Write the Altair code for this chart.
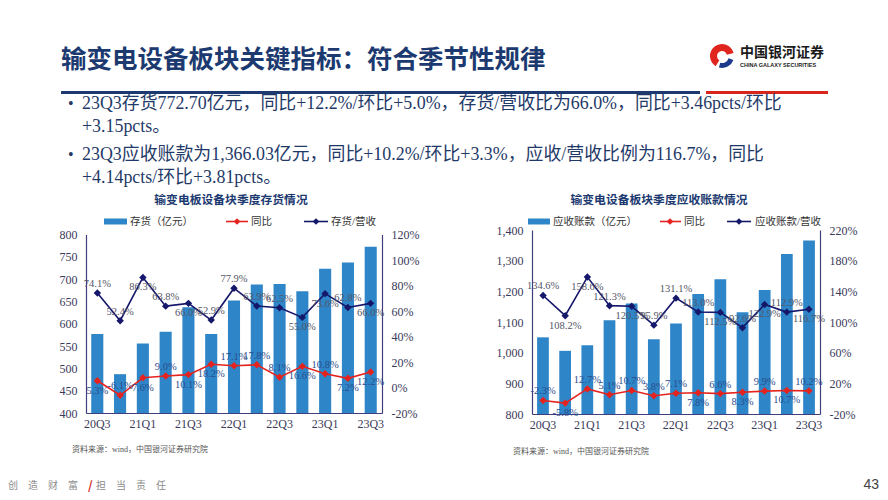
import altair as alt
import pandas as pd

# ---------------- data ----------------
quarters = ["20Q3", "20Q4", "21Q1", "21Q2", "21Q3", "21Q4", "22Q1",
            "22Q2", "22Q3", "22Q4", "23Q1", "23Q2", "23Q3"]
x_tick_labels = ["20Q3", "21Q1", "21Q3", "22Q1", "22Q3", "23Q1", "23Q3"]

inventory = [577, 487, 556, 582, 637, 577, 652, 688, 689, 673, 723, 737, 772.70]
inventory_yoy = [5.3, -6.1, 7.6, 9.0, 10.1, 18.2, 17.1, 17.8, 8.1, 16.6, 10.8, 7.2, 12.2]
inventory_ratio = [74.1, 52.4, 86.3, 63.8, 66.0, 52.9, 77.9, 63.9, 62.5, 55.0, 73.6, 62.8, 66.0]

receivables = [1050, 1006, 1024, 1106, 1160, 1044, 1095, 1191, 1239, 1132, 1204, 1322, 1366.03]
receivables_yoy = [-2.3, -5.8, 12.7, 5.1, 10.7, 3.8, 7.1, 7.8, 6.6, 8.3, 9.9, 10.7, 10.2]
receivables_ratio = [134.6, 108.2, 158.6, 121.3, 120.5, 95.9, 131.1, 113.0, 112.5, 92.6, 122.9, 112.9, 116.7]

inv_ticks = [400, 450, 500, 550, 600, 650, 700, 750, 800]
inv_pct_ticks = [-20, 0, 20, 40, 60, 80, 100, 120]
rec_ticks = [800, 900, 1000, 1100, 1200, 1300, 1400]
rec_pct_ticks = [-20, 20, 60, 100, 140, 180, 220]

# label placement (a = above, b = below)
inv_yoy_place = ["b", "a", "b", "a", "b", "b", "a", "a", "a", "b", "a", "b", "b"]
inv_ratio_place = ["a", "a", "b", "a", "b", "a", "a", "a", "a", "b", "b", "a", "b"]
rec_yoy_place = ["a", "b", "a", "a", "a", "a", "a", "b", "a", "b", "a", "b", "a"]
rec_ratio_place = ["a", "b", "b", "a", "b", "a", "a", "a", "b", "a", "b", "a", "b"]

# ---------------- style ----------------
W, H = 872, 484
M = 8  # page margin
BAR = "#2E86C8"
RED = "#E5231E"
NAVY = "#15176A"
AXC = "#3F3F7F"
LBL = "#3A3A5A"
TITLE = "#1C3A70"
TXT = "#1F3A68"
SERIF = "Liberation Serif, Noto Sans CJK SC"
SANS = "Noto Sans CJK SC"


def P(v):
    return v - M


def make_df(vals, yoy, ratio, yp, rp):
    return pd.DataFrame({
        "q": quarters, "val": vals, "yoy": yoy, "ratio": ratio,
        "yp": yp, "rp": rp,
        "yl": [f"{v:.1f}%" for v in yoy],
        "rl": [f"{v:.1f}%" for v in ratio],
    })


def panel(df, xr, yr, bar_dom, bar_ticks, bar_fmt, pct_dom, pct_ticks):
    xs = alt.Scale(domain=quarters, range=xr, paddingInner=0.47, paddingOuter=0.23)
    x_axis = alt.Axis(values=x_tick_labels, orient="bottom", offset=-(H - yr[0]),
                      labelAngle=0, title=None, ticks=False, domainColor=AXC,
                      domainWidth=1.2, labelFont="Liberation Serif", labelFontSize=12,
                      labelColor=LBL, labelPadding=5, grid=False)
    X_ax = alt.X("q:N", scale=xs, axis=x_axis, sort=quarters)
    X = alt.X("q:N", scale=xs, axis=None, sort=quarters)
    bs = alt.Scale(domain=bar_dom, range=list(yr), zero=False, nice=False)
    ps = alt.Scale(domain=pct_dom, range=list(yr), zero=False, nice=False)
    left_axis = alt.Axis(orient="left", offset=-xr[0], values=bar_ticks, format=bar_fmt,
                         title=None, ticks=False, grid=False, domainColor=AXC, domainWidth=1.2,
                         labelFont="Liberation Serif", labelFontSize=12, labelColor=LBL,
                         labelPadding=9)
    right_axis = alt.Axis(orient="right", offset=-(W - xr[1]), values=pct_ticks,
                          labelExpr="datum.value + '%'", title=None, ticks=False, grid=False,
                          domainColor=AXC, domainWidth=1.2, labelFont="Liberation Serif",
                          labelFontSize=12, labelColor=LBL, labelPadding=9)
    bars = alt.Chart(df).mark_bar(color=BAR).encode(
        x=X_ax, y=alt.Y("val:Q", scale=bs, axis=left_axis), y2=alt.datum(bar_dom[0]))
    yoy_line = alt.Chart(df).mark_line(color=RED, strokeWidth=1.6).encode(
        x=X, y=alt.Y("yoy:Q", scale=ps, axis=None))
    yoy_pts = alt.Chart(df).mark_point(shape="diamond", filled=True, size=55, color=RED,
                                       opacity=1).encode(
        x=X, y=alt.Y("yoy:Q", scale=ps, axis=None))
    ratio_line = alt.Chart(df).mark_line(color=NAVY, strokeWidth=1.6).encode(
        x=X, y=alt.Y("ratio:Q", scale=ps, axis=right_axis))
    ratio_pts = alt.Chart(df).mark_point(shape="diamond", filled=True, size=55, color=NAVY,
                                         opacity=1).encode(
        x=X, y=alt.Y("ratio:Q", scale=ps, axis=None))
    layers = [bars, yoy_line, yoy_pts, ratio_line, ratio_pts]
    for fld, lab, place, col in [("yoy", "yl", "yp", "#2B4C8C"), ("ratio", "rl", "rp", "#555566")]:
        for code, dy in [("a", -9), ("b", 10)]:
            layers.append(
                alt.Chart(df).transform_filter(f"datum.{place} == '{code}'").mark_text(
                    dy=dy, font="Liberation Serif", fontSize=10.5, color=col).encode(
                    x=X, y=alt.Y(f"{fld}:Q", scale=ps, axis=None), text=f"{lab}:N"))
    return layers


one = pd.DataFrame({"k": [0]})


def txt(s, x, y, size, color=TXT, font=SANS, weight="normal", align="left", baseline="middle"):
    return alt.Chart(pd.DataFrame({"t": [s]})).mark_text(
        font=font, fontSize=size, color=color, fontWeight=weight, align=align,
        baseline=baseline).encode(text="t:N", x=alt.value(P(x)), y=alt.value(P(y)))


def hline(x1, x2, y, color, width):
    return alt.Chart(one).mark_rule(color=color, strokeWidth=width).encode(
        x=alt.value(P(x1)), x2=alt.value(P(x2)), y=alt.value(P(y)))


def rect(x1, x2, y1, y2, color):
    return alt.Chart(one).mark_rect(color=color).encode(
        x=alt.value(P(x1)), x2=alt.value(P(x2)), y=alt.value(P(y1)), y2=alt.value(P(y2)))


def diamond(x, y, color):
    return alt.Chart(one).mark_point(shape="diamond", filled=True, size=45, color=color,
                                     opacity=1).encode(x=alt.value(P(x)), y=alt.value(P(y)))


def arc(x, y, t1, t2, r1, r2, color):
    return alt.Chart(one).mark_arc(theta=t1, theta2=t2, radius=r1, radius2=r2,
                                   color=color).encode(x=alt.value(P(x)), y=alt.value(P(y)))


left_df = make_df(inventory, inventory_yoy, inventory_ratio, inv_yoy_place, inv_ratio_place)
right_df = make_df(receivables, receivables_yoy, receivables_ratio, rec_yoy_place, rec_ratio_place)

left_layers = panel(left_df, [P(86), P(382)], (P(413), P(234.5)), [400, 800], inv_ticks, "d",
                    [-20, 120], inv_pct_ticks)
right_layers = panel(right_df, [P(532), P(820)], (P(414), P(230)), [800, 1400], rec_ticks, ",.0f",
                     [-20, 220], rec_pct_ticks)

deco = [
    txt("输变电设备板块关键指标：符合季节性规律", 61, 60, 25.5, TITLE, SANS, "bold"),
    hline(61, 700, 92.5, TITLE, 3),
    hline(706, 828, 92.5, "#D9261C", 3),
    arc(722, 56, 3.7, 7.6, 12, 5, "#E0251F"),
    arc(722, 56, 1.9, 3.4, 12, 7, "#1C3A8A"),
    txt("中国银河证券", 740, 53, 14, "#1A1A1A", SANS, "bold"),
    txt("CHINA GALAXY SECURITIES", 740, 64.5, 5.5, "#1A1A1A", "Liberation Sans", "bold"),
    txt("•", 68, 104, 16, TXT, SERIF),
    txt("23Q3存货772.70亿元，同比+12.2%/环比+5.0%，存货/营收比为66.0%，同比+3.46pcts/环比",
        82, 104, 17.9, TXT, SERIF),
    txt("+3.15pcts。", 82, 127, 17.9, TXT, SERIF),
    txt("•", 68, 155, 16, TXT, SERIF),
    txt("23Q3应收账款为1,366.03亿元，同比+10.2%/环比+3.3%，应收/营收比例为116.7%，同比",
        82, 155, 17.9, TXT, SERIF),
    txt("+4.14pcts/环比+3.81pcts。", 82, 178, 17.9, TXT, SERIF),
    # chart titles
    txt("输变电板设备块季度存货情况", 231, 200, 11.8, TITLE, SANS, "bold", "center"),
    txt("输变电设备板块季度应收账款情况", 659, 200, 11.8, TITLE, SANS, "bold", "center"),
    # legend left
    rect(104, 127, 218.5, 224.5, BAR),
    txt("存货（亿元）", 130, 221.5, 10.5, "#333333", SERIF),
    hline(226, 248, 221.5, RED, 1.6),
    diamond(237, 221.5, RED),
    txt("同比", 251, 221.5, 10.5, "#333333", SERIF),
    hline(304, 328, 221.5, NAVY, 1.6),
    diamond(316, 221.5, NAVY),
    txt("存货/营收", 331, 221.5, 10.5, "#333333", SERIF),
    # legend right
    rect(528, 550, 218.5, 224.5, BAR),
    txt("应收账款（亿元）", 553, 221.5, 10.5, "#333333", SERIF),
    hline(660, 681, 221.5, RED, 1.6),
    diamond(670, 221.5, RED),
    txt("同比", 684, 221.5, 10.5, "#333333", SERIF),
    hline(727, 751, 221.5, NAVY, 1.6),
    diamond(739, 221.5, NAVY),
    txt("应收账款/营收", 755, 221.5, 10.5, "#333333", SERIF),
    # sources
    txt("资料来源：wind，中国银河证券研究院", 72, 450, 8, "#555555", SERIF),
    txt("资料来源：wind，中国银河证券研究院", 513, 452, 8, "#555555", SERIF),
    # footer
    txt("创　造　财　富", 8, 486, 10, "#8C8C8C", SANS),
    txt("/", 88, 486, 12, "#D9261C", SANS, "bold"),
    txt("担　当　责　任", 96, 486, 10, "#8C8C8C", SANS),
    txt("43", 879, 485, 14, "#444444", "Liberation Sans", "normal", "right"),
]

chart = alt.layer(*(left_layers + right_layers + deco)).resolve_scale(
    x="independent", y="independent").resolve_axis(
    x="independent", y="independent").properties(
    width=W, height=H, autosize="none", padding=0,
    background="white").configure_view(stroke=None)

chart.save("out.html", embed_options={"renderer": "svg", "actions": False})
